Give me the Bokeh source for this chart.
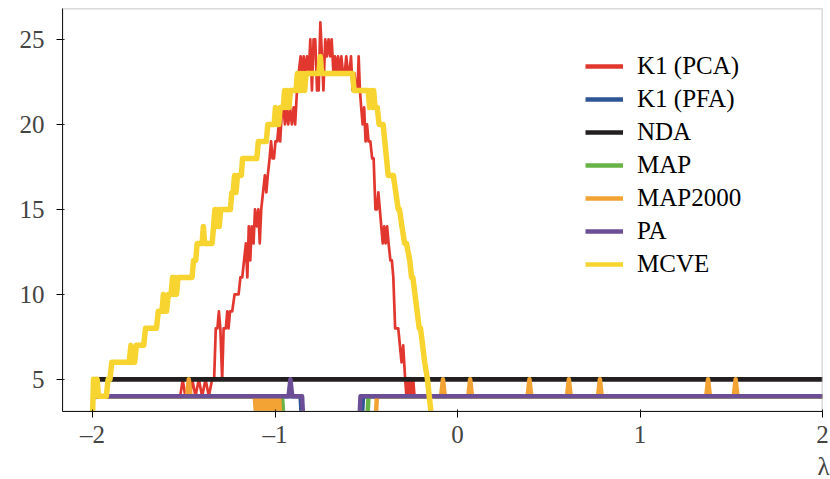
from bokeh.plotting import figure
from bokeh.models import Range1d, FixedTicker, Legend, LegendItem, Title, BoxAnnotation
from bokeh.embed import file_html
from bokeh.resources import INLINE

# ---------------- data ----------------
lam_ticks = [-2, -1, 0, 1, 2]
lam_labels = ["\u20132", "\u20131", "0", "1", "2"]
k_ticks = [5, 10, 15, 20, 25]

series_names = ["K1 (PCA)", "K1 (PFA)", "NDA", "MAP", "MAP2000", "PA", "MCVE"]
series_colors = ["#E2372F", "#2E5596", "#231F20", "#67B346", "#F2A334", "#6B4E96", "#F7D42F"]

pca_x = [-2.000, -1.520, -1.506, -1.492, -1.466, -1.454, -1.436, -1.418, -1.400, -1.381,
         -1.363, -1.345, -1.334, -1.325, -1.316, -1.308, -1.300, -1.290, -1.282, -1.270,
         -1.262, -1.255, -1.247, -1.235, -1.222, -1.200, -1.190, -1.180, -1.170, -1.160,
         -1.152, -1.144, -1.136, -1.128, -1.118, -1.110, -1.100, -1.092, -1.084, -1.076,
         -1.066, -1.056, -1.048, -1.040, -1.030, -1.022, -1.014, -1.006, -0.998, -0.988,
         -0.980, -0.972, -0.962, -0.954, -0.946, -0.938, -0.928, -0.918, -0.908, -0.898,
         -0.890, -0.880, -0.871, -0.860, -0.852, -0.843, -0.834, -0.825, -0.815, -0.807,
         -0.798, -0.789, -0.780, -0.770, -0.761, -0.752, -0.743, -0.735, -0.725, -0.716,
         -0.707, -0.698, -0.690, -0.680, -0.672, -0.664, -0.655, -0.646, -0.637, -0.628,
         -0.618, -0.610, -0.600, -0.592, -0.584, -0.575, -0.565, -0.555, -0.548, -0.542,
         -0.535, -0.528, -0.520, -0.512, -0.504, -0.496, -0.488, -0.478, -0.468, -0.460,
         -0.450, -0.442, -0.434, -0.426, -0.418, -0.410, -0.402, -0.394, -0.386, -0.378,
         -0.368, -0.360, -0.352, -0.342, -0.325, -0.316, -0.307, -0.298, -0.287, -0.280,
         -0.272, -0.265, -0.258, -0.250, -0.243, -0.236, 2.000]
pca_y = [4, 4, 5, 4, 4, 5, 4, 5, 4, 5,
         4, 5, 5, 8, 8, 9, 8, 5, 8, 8,
         9, 8, 9, 9, 10, 10, 11, 11, 12, 13,
         11, 14, 12, 14, 13, 15, 14, 15, 13, 15,
         16, 17, 16, 17, 18, 19, 18, 18, 19, 19,
         20, 19, 21, 21, 20, 21, 20, 21, 20, 21,
         20, 22, 23, 24, 23, 24, 23, 24, 23, 25,
         22, 25, 25, 22, 22, 26, 24, 22, 25, 24,
         25, 24, 25, 23, 24, 23, 24, 23, 24, 23,
         23, 24, 23, 23, 24, 22, 23, 22, 22, 24,
         22, 21, 20, 21, 19, 20, 19, 19, 18, 18,
         15, 15, 16, 15, 14, 13, 14, 13, 14, 13,
         12, 12, 11, 8, 8, 7, 6, 7, 5, 4,
         5, 4, 5, 4, 5, 4, 4]

pfa_x = [-2.000, -0.860, -0.850, -0.528, -0.518, 2.000]
pfa_y = [4, 4, 2, 2, 4, 4]

nda_x = [-2.000, 2.000]
nda_y = [5, 5]

map_x = [-2.000, -0.962, -0.950, -0.498, -0.488, 2.000]
map_y = [4, 4, 2, 2, 4, 4]

map2000_x = [-2.000, -1.483, -1.473, -1.463,
             -1.112, -1.104, -1.096, -1.086, -1.078, -1.066, -1.056, -1.045, -1.035, -1.020, -1.010, -0.998, -0.988,
             -0.978, -0.968, -0.452, -0.442,
             -0.090, -0.080, -0.070, 0.059, 0.069, 0.079, 0.384, 0.394, 0.404,
             0.600, 0.610, 0.620, 0.770, 0.780, 0.790, 1.363, 1.373, 1.383,
             1.514, 1.524, 1.534, 2.000]
map2000_y = [4, 4, 5, 4,
             4, 3, 4, 3, 4, 3, 4, 3, 4, 3, 4, 3, 4,
             4, 2, 2, 4,
             4, 5, 4, 4, 5, 4, 4, 5, 4,
             4, 5, 4, 4, 5, 4, 4, 5, 4,
             4, 5, 4, 4]

pa_x = [-2.000, -0.926, -0.916, -0.906, -0.852, -0.843, -0.540, -0.532, 2.000]
pa_y = [4, 4, 5, 4, 4, 2, 2, 4, 4]

mcve_x = [-2.000, -1.995, -1.988, -1.982, -1.975, -1.968, -1.925, -1.915, -1.905, -1.895,
          -1.800, -1.790, -1.780, -1.770, -1.760, -1.720, -1.710, -1.650, -1.640, -1.620,
          -1.612, -1.604, -1.595, -1.585, -1.570, -1.562, -1.555, -1.548, -1.540, -1.532,
          -1.455, -1.447, -1.435, -1.427, -1.400, -1.393, -1.386, -1.345, -1.337, -1.330,
          -1.322, -1.314, -1.306, -1.298, -1.245, -1.237, -1.230, -1.222, -1.214, -1.206,
          -1.185, -1.178, -1.100, -1.092, -1.048, -1.040, -1.005, -0.998, -0.991, -0.980,
          -0.972, -0.955, -0.948, -0.940, -0.932, -0.924, -0.916, -0.885, -0.878, -0.870,
          -0.862, -0.854, -0.846, -0.838, -0.830, -0.760, -0.752, -0.745, -0.575, -0.567,
          -0.490, -0.482, -0.475, -0.468, -0.460, -0.452, -0.440, -0.430, -0.408, -0.380,
          -0.352, -0.325, -0.318, -0.305, -0.290, -0.280, -0.262, -0.252, -0.245, -0.210,
          -0.203, -0.180, -0.165, -0.135]
mcve_y = [3, 5, 4, 5, 5, 4, 4, 5, 5, 6,
          6, 7, 6, 6, 7, 7, 8, 8, 9, 9,
          10, 9, 9, 10, 10, 11, 10, 11, 10, 11,
          11, 12, 12, 13, 13, 14, 13, 13, 14, 15,
          14, 15, 14, 15, 15, 16, 16, 17, 16, 17,
          17, 18, 18, 19, 19, 20, 20, 21, 20, 20,
          21, 21, 22, 21, 22, 21, 22, 22, 23, 22,
          23, 22, 23, 22, 23, 23, 24, 23, 23, 22,
          22, 21, 22, 21, 22, 21, 21, 20, 20, 17,
          17, 15, 15, 14, 13, 13, 12, 11, 11, 8,
          8, 6, 5, 2]

series_x = [pca_x, pfa_x, nda_x, map_x, map2000_x, pa_x, mcve_x]
series_y = [pca_y, pfa_y, nda_y, map_y, map2000_y, pa_y, mcve_y]
series_widths = [2.7, 4.5, 4.7, 4.5, 4.5, 4.5, 5.5]

# ---------------- figure ----------------
FONT = "Liberation Serif"
GRAY = "#A3A3A3"

p = figure(width=830, height=479,
           x_range=Range1d(-2.165, 2.0), y_range=Range1d(3.109, 26.82),
           output_backend="svg", toolbar_location=None,
           min_border_left=62, min_border_right=8, min_border_top=8, min_border_bottom=20)
p.grid.visible = False

p.xaxis.ticker = FixedTicker(ticks=lam_ticks)
p.yaxis.ticker = FixedTicker(ticks=k_ticks)
p.xaxis.major_label_overrides = {t: s for t, s in zip(lam_ticks, lam_labels)}
p.xaxis.major_label_text_font = FONT
p.xaxis.major_label_text_font_size = "25px"
p.yaxis.major_label_text_font = FONT
p.yaxis.major_label_text_font_size = "25px"
p.xaxis.major_label_standoff = 3
p.yaxis.major_label_standoff = 12

for xs, ys, c, w in zip(series_x, series_y, series_colors, series_widths):
    p.line(xs, ys, line_color=c, line_width=w, line_join="round")

# gray frame around the plotting area
p.add_layout(BoxAnnotation(fill_alpha=0, line_color=GRAY, line_width=2.5))

# legend-only proxies (placed outside the visible ranges)
items = []
for name, c in zip(series_names, series_colors):
    proxy = p.line(x=[50, 51], y=[100, 100], line_color=c, line_width=4.5)
    items.append(LegendItem(label=name, renderers=[proxy]))

legend = Legend(items=items, location=(523, 133),
                border_line_color=None, background_fill_alpha=0,
                padding=0, margin=0, spacing=5,
                glyph_width=38, glyph_height=26, label_height=26,
                label_standoff=14,
                label_text_font=FONT, label_text_font_size="25px",
                label_text_color="black")
p.add_layout(legend)

lam_title = Title(text="\u03bb", align="right", text_font=FONT,
                  text_font_size="25px", text_font_style="normal",
                  standoff=0, offset=-7)
p.add_layout(lam_title, "below")

open("out.html", "w").write(file_html(p, INLINE))
